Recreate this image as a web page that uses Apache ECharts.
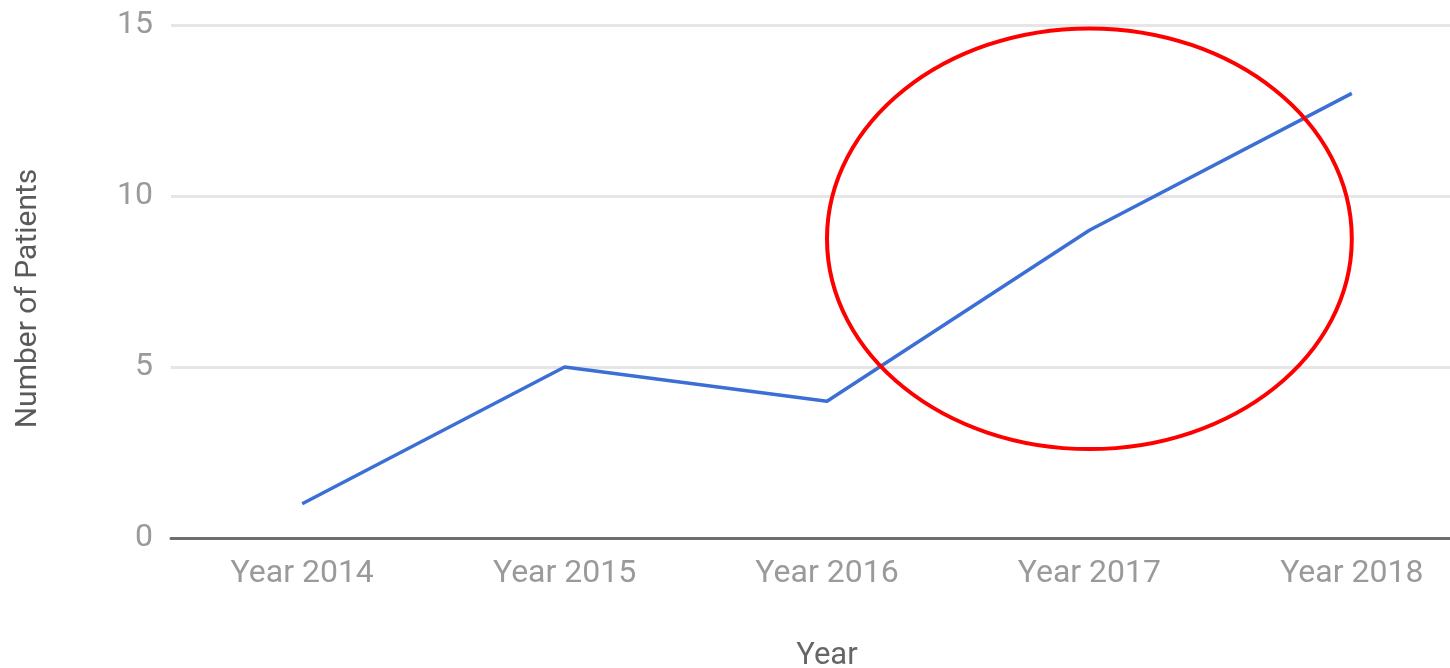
<!DOCTYPE html>
<html>
<head>
<meta charset="utf-8">
<script src="https://cdn.jsdelivr.net/npm/echarts@6/dist/echarts.min.js"></script>
<style>
html,body{margin:0;padding:0;background:#fff;}
#chart{width:1450px;height:668px;}
</style>
</head>
<body>
<div id="chart"></div>
<script>
const categories = ['Year 2014', 'Year 2015', 'Year 2016', 'Year 2017', 'Year 2018'];
const patients = [1, 5, 4, 9, 13];
const yTicks = { min: 0, max: 15, interval: 5 };
const highlight = { category: 'Year 2017', value: 8.75, halfHeight: 6.15 };

const chart = echarts.init(document.getElementById('chart'), null, { renderer: 'canvas' });
const font = 'Roboto, "Noto Sans", sans-serif';
chart.setOption({
  animation: false,
  backgroundColor: '#ffffff',
  grid: { left: 171, right: -33, top: 25, bottom: 130, containLabel: false, outerBoundsMode: 'none' },
  xAxis: {
    type: 'category',
    data: categories,
    boundaryGap: true,
    name: 'Year',
    nameLocation: 'middle',
    nameGap: 103,
    nameTextStyle: { color: '#666', fontSize: 31, fontFamily: font },
    axisLine: { show: true, lineStyle: { color: '#6e6e6e', width: 3 } },
    axisTick: { show: false },
    axisLabel: { color: '#9a9a9a', fontSize: 32, fontFamily: font, margin: 20, interval: 0 },
    splitLine: { show: false }
  },
  yAxis: {
    type: 'value',
    min: yTicks.min, max: yTicks.max, interval: yTicks.interval,
    name: 'Number of Patients',
    nameLocation: 'middle',
    nameGap: 128,
    nameTextStyle: { color: '#5a5a5a', fontSize: 30, fontFamily: font, padding: [0, 0, 0, -34] },
    axisLine: { show: false },
    axisTick: { show: false },
    axisLabel: { color: '#9a9a9a', fontSize: 32, fontFamily: font, margin: 18 },
    splitLine: { show: true, lineStyle: { color: '#e6e6e6', width: 3 } }
  },
  series: [{
    type: 'line',
    data: patients,
    symbol: 'none',
    lineStyle: { color: '#3c6fd6', width: 3.5 },
    z: 3
  }]
});

function drawEllipse() {
  const c = chart.convertToPixel({ gridIndex: 0 }, [highlight.category, highlight.value]);
  const a = chart.convertToPixel({ gridIndex: 0 }, [categories[2], 0]);
  const b = chart.convertToPixel({ gridIndex: 0 }, [categories[3], highlight.halfHeight]);
  const z0 = chart.convertToPixel({ gridIndex: 0 }, [categories[3], 0]);
  const rx = Math.abs(c[0] - a[0]);
  const ry = Math.abs(z0[1] - b[1]);
  chart.setOption({
    graphic: [{
      type: 'ellipse',
      shape: { cx: c[0], cy: c[1], rx: rx, ry: ry },
      style: { fill: 'none', stroke: '#ff0000', lineWidth: 4 },
      z: 10
    }]
  });
}
drawEllipse();
</script>
</body>
</html>
